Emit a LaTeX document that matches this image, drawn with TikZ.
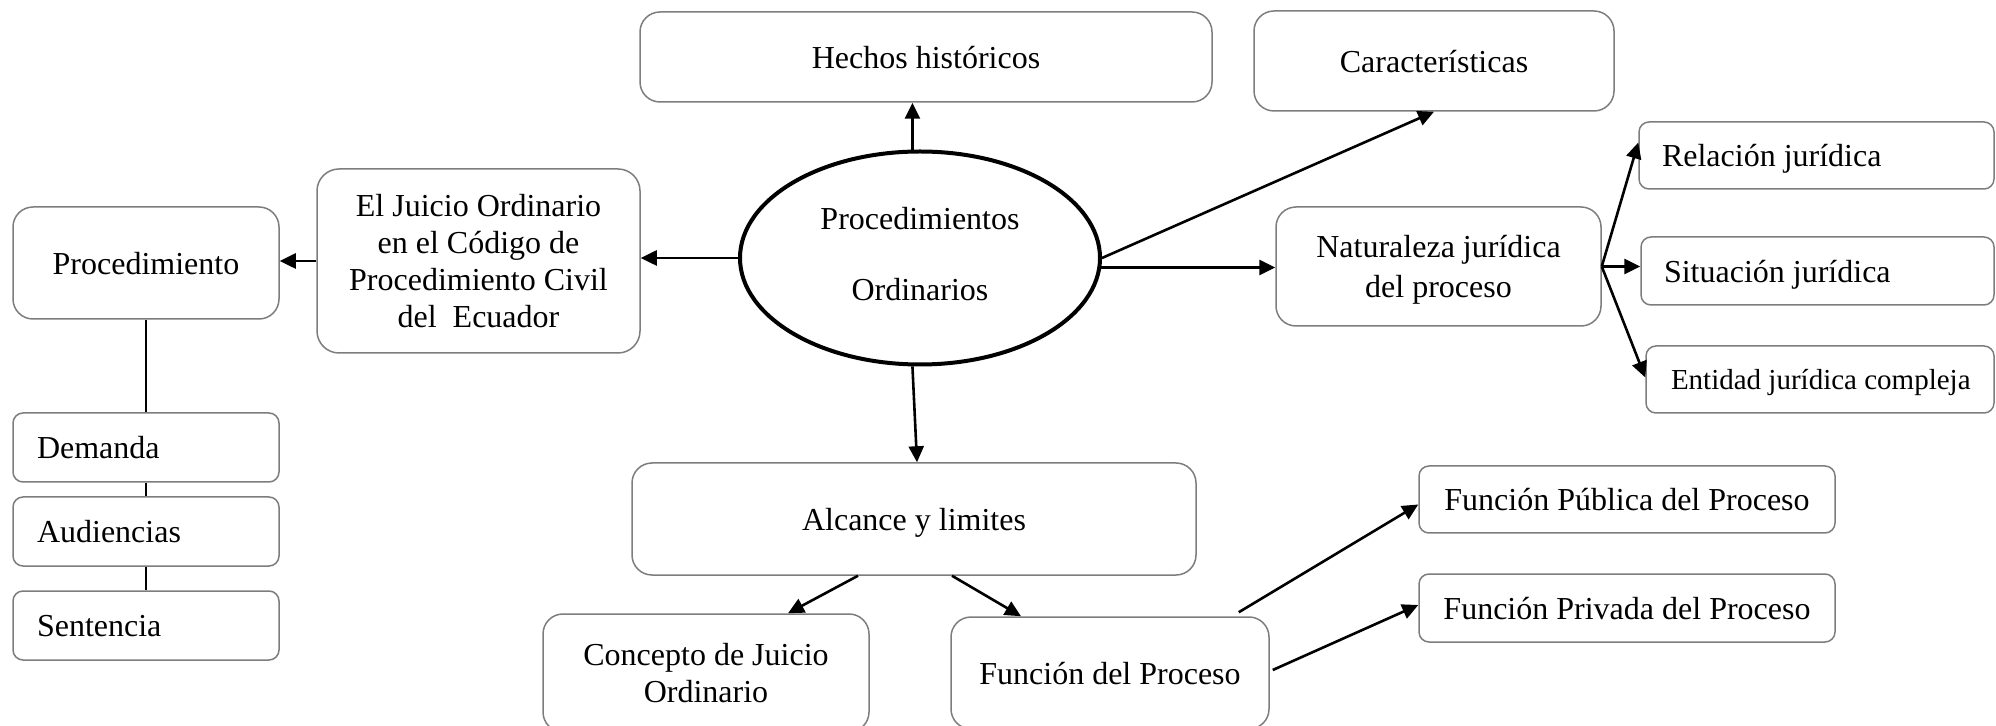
\documentclass[tikz,border=0pt]{standalone}
\usepackage{fontspec}
\setmainfont{Liberation Serif}
\usetikzlibrary{shapes.geometric,arrows.meta,calc}
\definecolor{bordergray}{RGB}{125,125,125}
\newcommand{\lbtext}[2]{\makebox[#1][l]{#2}}
\begin{document}
\begin{tikzpicture}[x=0.5pt,y=-0.5pt,
  every node/.style={font=\fontsize{16pt}{18.5pt}\selectfont},
  bigbox/.style={draw=bordergray, line width=0.75pt, rounded corners=10pt, align=center, inner sep=0pt, text depth=0pt},
  smallbox/.style={draw=bordergray, line width=0.75pt, rounded corners=5pt, align=center, inner sep=0pt, text depth=0pt},
  lbox/.style={draw=bordergray, line width=0.75pt, rounded corners=5pt, inner ysep=0pt, inner xsep=12pt, text depth=0pt},
  ell/.style={ellipse, draw=black, line width=2pt, inner sep=0pt},
  arr/.style={-{Triangle[length=8pt,width=7.5pt]}, line width=1.3pt, black},
  plain/.style={line width=1.2pt, black}]
\useasboundingbox (0,0) rectangle (1996,726);
\clip (0,0) rectangle (1996,726);

% nodes
\node[bigbox, minimum width=286pt, minimum height=45pt] (hechos) at (926,57) {Hechos históricos};
\node[bigbox, minimum width=180pt, minimum height=50pt] (caract) at (1434,61) {Características};
\node[bigbox, rounded corners=11pt, minimum width=161.5pt, minimum height=92pt] (juicio) at (478.5,261) {El Juicio Ordinario\\en el Código de\\Procedimiento Civil\\del~ Ecuador};
\node[bigbox, minimum width=133pt, minimum height=56pt] (proc) at (146,263) {Procedimiento};
\node[lbox, minimum width=133pt, minimum height=34.5pt] (demanda) at (146,447.5) {\lbtext{109pt}{Demanda}};
\node[lbox, minimum width=133pt, minimum height=34.5pt] (audiencias) at (146,531.5) {\lbtext{109pt}{Audiencias}};
\node[lbox, minimum width=133pt, minimum height=34.5pt] (sentencia) at (146,625.5) {\lbtext{109pt}{Sentencia}};
\node[ell, minimum width=180pt, minimum height=106.5pt] (ell) at (920,258) {\raisebox{3pt}{\begin{tabular}{@{}c@{}}Procedimientos\\[17pt]Ordinarios\end{tabular}}};
\node[bigbox, minimum width=162.5pt, minimum height=59.5pt] (natur) at (1438.5,266.5) {Naturaleza jurídica\\[1.5pt]del proceso};
\node[lbox, inner xsep=11.5pt, minimum width=177.5pt, minimum height=33.5pt] (relacion) at (1816.5,155.5) {\lbtext{154.5pt}{Relación jurídica}};
\node[lbox, inner xsep=11.5pt, minimum width=176.5pt, minimum height=34pt] (situacion) at (1817.5,271) {\lbtext{153.5pt}{Situación jurídica}};
\node[lbox, inner xsep=12.5pt, minimum width=174pt, minimum height=33.5pt, font=\fontsize{14.5pt}{17pt}\selectfont] (entidad) at (1820,379.5) {\lbtext{149pt}{Entidad jurídica compleja}};
\node[bigbox, minimum width=282pt, minimum height=56pt] (alcance) at (914,519) {Alcance y limites};
\node[bigbox, minimum width=163pt, minimum height=59pt] (concepto) at (706,673) {Concepto de Juicio\\Ordinario};
\node[bigbox, minimum width=159pt, minimum height=56pt] (funcion) at (1110,673) {Función del Proceso};
\node[smallbox, minimum width=208pt, minimum height=33.5pt] (publica) at (1627,499.5) {Función Pública del Proceso};
\node[smallbox, minimum width=208pt, minimum height=34pt] (privada) at (1627,608) {Función Privada del Proceso};

% connectors
\draw[arr] (ell.94) -- (ell.94 |- hechos.south);
\draw[arr] (ell.east) -- (caract.south);
\draw[arr] (ell.west) -- (ell.west -| juicio.east);
\draw[arr] (juicio.west) -- (juicio.west -| proc.east);
\draw[plain] (proc.south) -- (demanda.north);
\draw[plain] (demanda.south) -- (audiencias.north);
\draw[plain] (audiencias.south) -- (sentencia.north);
\draw[arr] (ell.-3) -- (ell.-3 -| natur.west);
\draw[arr] (ell.266) -- ($(alcance.north)+(3,0)$);
\draw[arr] (natur.east) -- ($(relacion.west)+(0,-13)$);
\draw[arr] (natur.east) -- (natur.east -| situacion.west);
\draw[arr] (natur.east) -- ($(entidad.west)+(0,-2)$);
\draw[arr] ($(alcance.south)+(-56,0)$) -- ($(concepto.north)+(82,0)$);
\draw[arr] ($(alcance.south)+(38,0)$) -- ($(funcion.north)+(-89,0)$);
\draw[arr] ($(funcion.north east)+(-31,-4)$) -- ($(publica.west)+(0,5)$);
\draw[arr] ($(funcion.east)+(3,-3)$) -- ($(privada.west)+(0,-3)$);
\end{tikzpicture}
\end{document}
